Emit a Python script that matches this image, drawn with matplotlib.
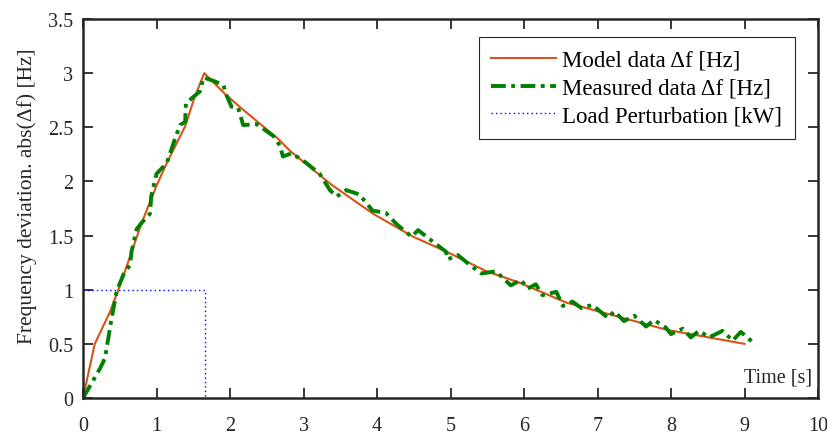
import matplotlib
matplotlib.use("Agg")
import matplotlib.pyplot as plt

plt.rcParams['font.family'] = ['Liberation Serif', 'DejaVu Serif']
plt.rcParams['mathtext.fontset'] = 'stix'

model_t = [0, 0.16, 0.37, 0.48, 0.57, 0.8, 1.0, 1.14, 1.39, 1.52, 1.65, 1.93, 2.13,
           2.66, 2.82, 3.38, 3.95, 4.49, 4.95, 5.49, 5.92, 6.58, 7.94, 9.0]
model_f = [0, 0.5, 0.8, 1.0, 1.17, 1.62, 1.96, 2.17, 2.51, 2.78, 3.0, 2.81, 2.69,
           2.39, 2.28, 1.97, 1.70, 1.49, 1.35, 1.17, 1.07, 0.88, 0.63, 0.5]

meas_t = [0, 0.23, 0.30, 0.39, 0.46, 0.55, 0.64, 0.66, 0.73, 0.80,
          0.91, 0.93, 1.0, 1.14, 1.25, 1.32, 1.39, 1.40, 1.50, 1.59,
          1.64, 1.77, 1.91, 1.95, 2.02, 2.11, 2.18, 2.36, 2.59, 2.68,
          2.72, 2.84, 3.04, 3.22, 3.36, 3.45, 3.58, 3.76, 3.94, 4.12,
          4.26, 4.47, 4.56, 4.71, 4.94, 4.96, 5.10, 5.26, 5.42, 5.62,
          5.71, 5.82, 5.96, 6.05, 6.16, 6.25, 6.44, 6.53, 6.66, 6.78,
          6.93, 7.14, 7.23, 7.36, 7.50, 7.66, 7.77, 7.93, 8.00, 8.16,
          8.27, 8.38, 8.52, 8.70, 8.84, 8.95, 9.04, 9.15]
meas_f = [0, 0.27, 0.37, 0.74, 0.99, 1.14, 1.23, 1.35, 1.56, 1.62,
          1.70, 1.87, 2.07, 2.17, 2.39, 2.52, 2.55, 2.72, 2.78, 2.83,
          2.96, 2.93, 2.89, 2.80, 2.69, 2.68, 2.52, 2.53, 2.42, 2.33,
          2.23, 2.26, 2.17, 2.07, 1.92, 1.86, 1.92, 1.88, 1.73, 1.71,
          1.61, 1.49, 1.55, 1.47, 1.35, 1.28, 1.32, 1.23, 1.15, 1.17,
          1.11, 1.04, 1.09, 1.01, 1.05, 0.95, 0.98, 0.85, 0.89, 0.83,
          0.86, 0.74, 0.80, 0.71, 0.76, 0.66, 0.72, 0.65, 0.59, 0.64,
          0.56, 0.62, 0.56, 0.62, 0.53, 0.61, 0.56, 0.49]

load_t = [0, 1.66, 1.66]
load_p = [1, 1, 0]

x_ticks = [0, 1, 2, 3, 4, 5, 6, 7, 8, 9, 10]
y_ticks = [0, 0.5, 1, 1.5, 2, 2.5, 3, 3.5]
y_ticklabels = ['0', '0.5', '1', '1.5', '2', '2.5', '3', '3.5']

fig = plt.figure(figsize=(8.27, 4.35), dpi=100)
ax = fig.add_axes([83/827, 1-399/435, (818-83)/827, (399-20)/435])

ax.plot(model_t, model_f, color='#D95319', lw=1.5, label='Model data Δf [Hz]')
ax.plot(meas_t, meas_f, color='#008000', lw=2.8, dashes=(3.8, 1.4, 1.0, 1.4),
        label='Measured data Δf [Hz]')
ax.plot(load_t, load_p, color='blue', lw=1.0, linestyle=(0, (1, 2.2)),
        label='Load Perturbation [kW]')

ax.set_xlim(0, 10)
ax.set_ylim(0, 3.5)
ax.set_xticks(x_ticks)
ax.set_yticks(y_ticks)
ax.set_yticklabels(y_ticklabels)
ax.tick_params(direction='in', top=True, right=True, length=7, width=1.3,
               labelsize=14.5, colors='#262626')
ax.tick_params(axis='x', pad=13)
ax.tick_params(axis='y', pad=7)
for s in ax.spines.values():
    s.set_linewidth(1.8)
    s.set_color('#262626')

ax.set_ylabel('Frequency deviation. abs(Δf) [Hz]', fontsize=15.5, color='#262626')
ax.yaxis.set_label_coords(-0.0626, 0.534)
ax.text(0.992, 0.03, 'Time [s]', transform=ax.transAxes, ha='right', va='bottom',
        fontsize=14.5, color='#262626')

leg = ax.legend(loc='upper right', bbox_to_anchor=(0.9687, 0.9525), borderaxespad=0,
                fontsize=16.5, fancybox=False, edgecolor='#262626', framealpha=1,
                handlelength=2.8, handletextpad=0.3, labelspacing=0.3,
                borderpad=0.55)
leg.get_frame().set_linewidth(0.8)

fig.savefig('out.png', dpi=100)
